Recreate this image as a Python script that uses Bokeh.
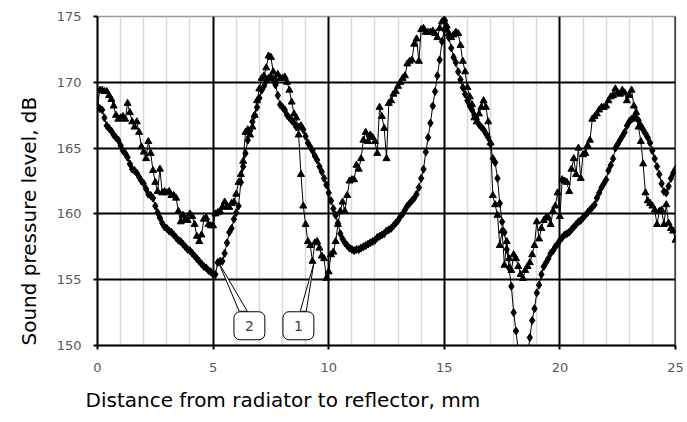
from bokeh.plotting import figure
from bokeh.models import Range1d, FixedTicker, Span, Label, ColumnDataSource, Title
from bokeh.embed import file_html
from bokeh.resources import INLINE

# Distance from radiator to reflector, mm (measurement positions)
DISTANCE_MM = [
    0.0, 0.1, 0.2, 0.3, 0.4, 0.5, 0.6, 0.7, 0.8, 0.9,
    1.0, 1.1, 1.2, 1.3, 1.4, 1.5, 1.6, 1.7, 1.8, 1.9,
    2.0, 2.1, 2.2, 2.3, 2.4, 2.5, 2.6, 2.7, 2.8, 2.9,
    3.0, 3.1, 3.2, 3.3, 3.4, 3.5, 3.6, 3.7, 3.8, 3.9,
    4.0, 4.1, 4.2, 4.3, 4.4, 4.5, 4.6, 4.7, 4.8, 4.9,
    5.0, 5.1, 5.2, 5.3, 5.4, 5.5, 5.6, 5.7, 5.8, 5.9,
    6.0, 6.1, 6.2, 6.3, 6.4, 6.5, 6.6, 6.7, 6.8, 6.9,
    7.0, 7.1, 7.2, 7.3, 7.4, 7.5, 7.6, 7.7, 7.8, 7.9,
    8.0, 8.1, 8.2, 8.3, 8.4, 8.5, 8.6, 8.7, 8.8, 8.9,
    9.0, 9.1, 9.2, 9.3, 9.4, 9.5, 9.6, 9.7, 9.8, 9.9,
    10.0, 10.1, 10.2, 10.3, 10.4, 10.5, 10.6, 10.7, 10.8, 10.9,
    11.0, 11.1, 11.2, 11.3, 11.4, 11.5, 11.6, 11.7, 11.8, 11.9,
    12.0, 12.1, 12.2, 12.3, 12.4, 12.5, 12.6, 12.7, 12.8, 12.9,
    13.0, 13.1, 13.2, 13.3, 13.4, 13.5, 13.6, 13.7, 13.8, 13.9,
    14.0, 14.1, 14.2, 14.3, 14.4, 14.5, 14.6, 14.7, 14.8, 14.9,
    15.0, 15.1, 15.2, 15.3, 15.4, 15.5, 15.6, 15.7, 15.8, 15.9,
    16.0, 16.1, 16.2, 16.3, 16.4, 16.5, 16.6, 16.7, 16.8, 16.9,
    17.0, 17.1, 17.2, 17.3, 17.4, 17.5, 17.6, 17.7, 17.8, 17.9,
    18.0, 18.1, 18.2, 18.3, 18.4, 18.5, 18.6, 18.7, 18.8, 18.9,
    19.0, 19.1, 19.2, 19.3, 19.4, 19.5, 19.6, 19.7, 19.8, 19.9,
    20.0, 20.1, 20.2, 20.3, 20.4, 20.5, 20.6, 20.7, 20.8, 20.9,
    21.0, 21.1, 21.2, 21.3, 21.4, 21.5, 21.6, 21.7, 21.8, 21.9,
    22.0, 22.1, 22.2, 22.3, 22.4, 22.5, 22.6, 22.7, 22.8, 22.9,
    23.0, 23.1, 23.2, 23.3, 23.4, 23.5, 23.6, 23.7, 23.8, 23.9,
    24.0, 24.1, 24.2, 24.3, 24.4, 24.5, 24.6, 24.7, 24.8, 24.9,
    25.0,
]

# Curve 1 (triangles), sound pressure level, dB
SPL_1 = [
    168.2, 169.4, 169.4, 169.3, 169.3, 169.0, 168.7, 168.2, 167.5, 167.2,
    167.3, 167.4, 167.2, 168.4, 167.7, 167.0, 166.6, 167.0, 166.2, 165.1,
    164.7, 164.2, 165.5, 164.6, 163.3, 162.4, 161.7, 163.4, 161.6, 161.7,
    161.6, 161.7, 161.4, 161.4, 161.2, 160.2, 159.4, 159.9, 159.6, 159.5,
    160.0, 159.8, 159.2, 158.3, 157.9, 158.4, 159.6, 159.7, 159.2, 159.1,
    159.1, 160.0, 160.1, 160.2, 160.5, 160.9, 160.6, 160.5, 160.8, 160.9,
    161.5, 162.4, 163.0, 164.0, 166.2, 166.4, 166.0, 166.6, 167.5, 168.6,
    169.5, 170.3, 170.5, 171.1, 172.0, 171.9, 170.8, 170.1, 170.6, 170.3,
    170.3, 170.4, 170.0, 169.4, 168.5, 167.6, 167.3, 166.0, 163.0, 160.6,
    159.2, 157.9, 157.6, 156.4, 157.8, 157.9, 157.4, 156.8, 156.6, 155.1,
    155.6, 156.9, 157.1, 157.9, 159.2, 160.2, 160.9, 160.2, 161.4, 162.5,
    162.6, 162.6, 163.7, 163.4, 164.2, 165.6, 166.2, 165.5, 166.0, 165.8,
    165.5, 164.6, 168.1, 167.4, 166.5, 164.2, 168.4, 168.6, 169.1, 169.3,
    169.7, 170.0, 170.3, 170.5, 171.4, 171.6, 171.7, 172.9, 173.3, 171.6,
    174.0, 174.1, 173.8, 173.8, 173.8, 173.9, 173.7, 173.4, 174.1, 174.6,
    174.8, 174.3, 173.7, 173.4, 173.6, 173.8, 173.7, 172.8, 171.6, 170.8,
    169.6, 168.9, 168.3, 167.3, 167.0, 167.6, 168.1, 168.6, 168.1, 167.0,
    165.4, 161.4, 160.7, 159.9, 157.6, 158.7, 156.1, 157.9, 156.6, 155.7,
    156.9, 156.6, 156.0, 155.4, 155.1, 155.7, 156.0, 156.3, 156.9, 157.6,
    159.4, 158.1, 158.9, 159.5, 159.7, 159.7, 159.2, 160.2, 160.6, 161.6,
    159.8, 162.6, 162.5, 162.4, 161.7, 163.4, 164.2, 163.0, 165.0, 162.7,
    164.5, 164.6, 165.2, 165.6, 167.2, 167.4, 167.6, 167.9, 168.1, 168.1,
    168.2, 168.6, 168.9, 169.0, 169.5, 169.2, 169.1, 169.4, 169.2, 168.6,
    169.0, 169.4, 168.2, 167.7, 166.6, 165.5, 163.8, 161.6, 161.0, 160.8,
    160.6, 160.3, 159.2, 160.2, 160.3, 159.2, 160.7, 159.3, 158.9, 158.7,
    158.0,
]

# Curve 2 (diamonds), sound pressure level, dB
SPL_2 = [
    168.1, 168.0, 167.9, 167.3, 166.7, 166.5, 166.3, 166.0, 165.8, 165.6,
    165.2, 164.8, 164.6, 164.3, 163.8, 163.4, 163.3, 163.1, 162.8, 162.5,
    162.3, 161.9, 161.5, 161.4, 161.2, 160.6, 160.1, 159.7, 159.3, 159.0,
    158.9, 158.7, 158.6, 158.4, 158.2, 158.0, 157.9, 157.7, 157.5, 157.3,
    157.2, 157.0, 156.8, 156.6, 156.4, 156.2, 156.0, 155.9, 155.7, 155.6,
    155.4, 155.4, 156.3, 156.4, 156.4, 157.0, 157.8, 158.6, 158.9, 159.6,
    160.1, 160.6, 162.4, 163.6, 164.6, 165.6, 166.3, 167.0, 167.5, 168.1,
    168.8, 169.4, 169.7, 170.1, 170.3, 170.4, 170.2, 169.8, 169.0, 168.3,
    168.1, 167.9, 167.5, 167.3, 167.1, 166.9, 166.6, 166.6, 166.7, 166.4,
    165.9, 165.4, 165.1, 164.8, 164.4, 164.1, 163.6, 163.2, 162.7, 162.2,
    161.6, 161.0, 160.4, 159.9, 159.3, 158.5, 158.1, 157.8, 157.6, 157.4,
    157.3, 157.2, 157.3, 157.3, 157.4, 157.5, 157.6, 157.7, 157.8, 157.9,
    158.0, 158.2, 158.3, 158.4, 158.5, 158.7, 158.8, 158.9, 159.1, 159.3,
    159.5, 159.8, 160.0, 160.3, 160.6, 160.8, 161.0, 161.2, 161.5, 162.0,
    162.7, 163.4, 164.7, 165.8, 166.9, 168.2, 169.3, 170.5, 171.7, 173.1,
    174.0, 174.1, 173.4, 172.6, 171.9, 171.5, 170.8, 170.2, 169.6, 169.1,
    168.6, 168.2, 167.9, 167.5, 167.2, 166.8, 166.6, 166.4, 166.1, 165.8,
    165.3, 164.2, 163.9, 162.7, 160.8, 159.4, 158.6, 157.3, 155.9, 154.5,
    152.5, 151.1, 149.6, 148.3, 147.6, 147.9, 149.2, 150.6, 151.9, 152.8,
    154.0, 154.6, 155.4, 156.0, 156.3, 156.6, 157.0, 157.2, 157.5, 157.7,
    158.0, 158.2, 158.4, 158.5, 158.6, 158.8, 159.0, 159.2, 159.4, 159.5,
    159.7, 159.9, 160.1, 160.3, 160.5, 160.7, 161.2, 161.6, 162.0, 162.3,
    162.6, 163.3, 163.7, 164.2, 165.0, 165.3, 165.6, 165.9, 166.2, 166.7,
    167.0, 167.2, 167.3, 167.3, 167.1, 166.7, 166.4, 166.1, 165.8, 165.4,
    164.8, 164.2, 163.6, 163.0, 162.3, 161.7, 161.6, 162.1, 162.7, 163.1,
    163.4,
]

X_TICKS = [0, 5, 10, 15, 20, 25]
X_MINOR = [1, 2, 3, 4, 6, 7, 8, 9, 11, 12, 13, 14, 16, 17, 18, 19, 21, 22, 23, 24]
Y_TICKS = [150, 155, 160, 165, 170, 175]

X_LABEL = "Distance from radiator to reflector, mm"
Y_LABEL = "Sound pressure level, dB"

# Callout annotations: label, box centre (mm, dB), pointer polygon
CALLOUTS = [
    ("2", 6.57, 151.5, [6.13, 5.24, 6.48], [152.6, 156.3, 152.6]),
    ("1", 8.69, 151.5, [8.77, 9.35, 9.03], [152.6, 156.2, 152.6]),
]

FONT = "DejaVu Sans"

p = figure(
    width=687, height=422,
    x_range=Range1d(0, 25), y_range=Range1d(150, 175),
    output_backend="svg", toolbar_location=None,
    min_border_left=97, min_border_right=12, min_border_top=16, min_border_bottom=76,
)
p.background_fill_color = "white"
p.border_fill_color = "white"
p.outline_line_color = "#9a9a9a"
p.outline_line_width = 1.5

# grids
p.xgrid.ticker = FixedTicker(ticks=[5, 10, 15, 20], minor_ticks=X_MINOR)
p.xgrid.grid_line_color = "black"
p.xgrid.grid_line_width = 2
p.xgrid.minor_grid_line_color = "#d9d9d9"
p.xgrid.minor_grid_line_width = 1.5
p.ygrid.ticker = FixedTicker(ticks=[155, 160, 165, 170])
p.ygrid.grid_line_color = "black"
p.ygrid.grid_line_width = 2

# axes
p.xaxis.ticker = FixedTicker(ticks=X_TICKS)
p.yaxis.ticker = FixedTicker(ticks=Y_TICKS)
for ax in (p.xaxis, p.yaxis):
    ax.axis_line_color = "black"
    ax.axis_line_width = 2
    ax.major_tick_line_color = "black"
    ax.major_tick_line_width = 2
    ax.major_tick_out = 4
    ax.major_tick_in = 0
    ax.minor_tick_out = 0
    ax.minor_tick_in = 0
    ax.major_label_text_font = FONT
    ax.major_label_text_font_size = "13px"
    ax.major_label_text_color = "#595959"
p.xaxis.major_label_standoff = 13
p.yaxis.major_label_standoff = 12

# axis titles, aligned toward the origin as in the original
p.add_layout(Title(text=X_LABEL, align="left", offset=-12, standoff=22,
                   text_font=FONT, text_font_size="20px", text_font_style="normal",
                   text_color="black"), "below")
p.add_layout(Title(text=Y_LABEL, align="left", offset=0, standoff=25,
                   text_font=FONT, text_font_size="20px", text_font_style="normal",
                   text_color="black"), "left")

p.add_layout(Span(location=25, dimension="height", line_color="black", line_width=2))

src = ColumnDataSource(dict(x=DISTANCE_MM, y1=SPL_1, y2=SPL_2))

p.line("x", "y1", source=src, line_color="black", line_width=1)
p.scatter("x", "y1", source=src, marker="triangle", size=7, color="black")
p.line("x", "y2", source=src, line_color="black", line_width=1)
p.scatter("x", "y2", source=src, marker="diamond", size=8, color="black")

for text, bx, by, pxs, pys in CALLOUTS:
    p.patch(pxs, pys, fill_color="white", line_color="black", line_width=1)
    p.add_layout(Label(
        x=bx, y=by, text=text, text_align="center", text_baseline="middle",
        text_font=FONT, text_font_size="14px", text_color="#404040",
        background_fill_color="white", border_line_color="black", border_line_width=1,
        padding=(11, 9), border_radius=6,
    ))

open("out.html", "w").write(file_html(p, INLINE))
